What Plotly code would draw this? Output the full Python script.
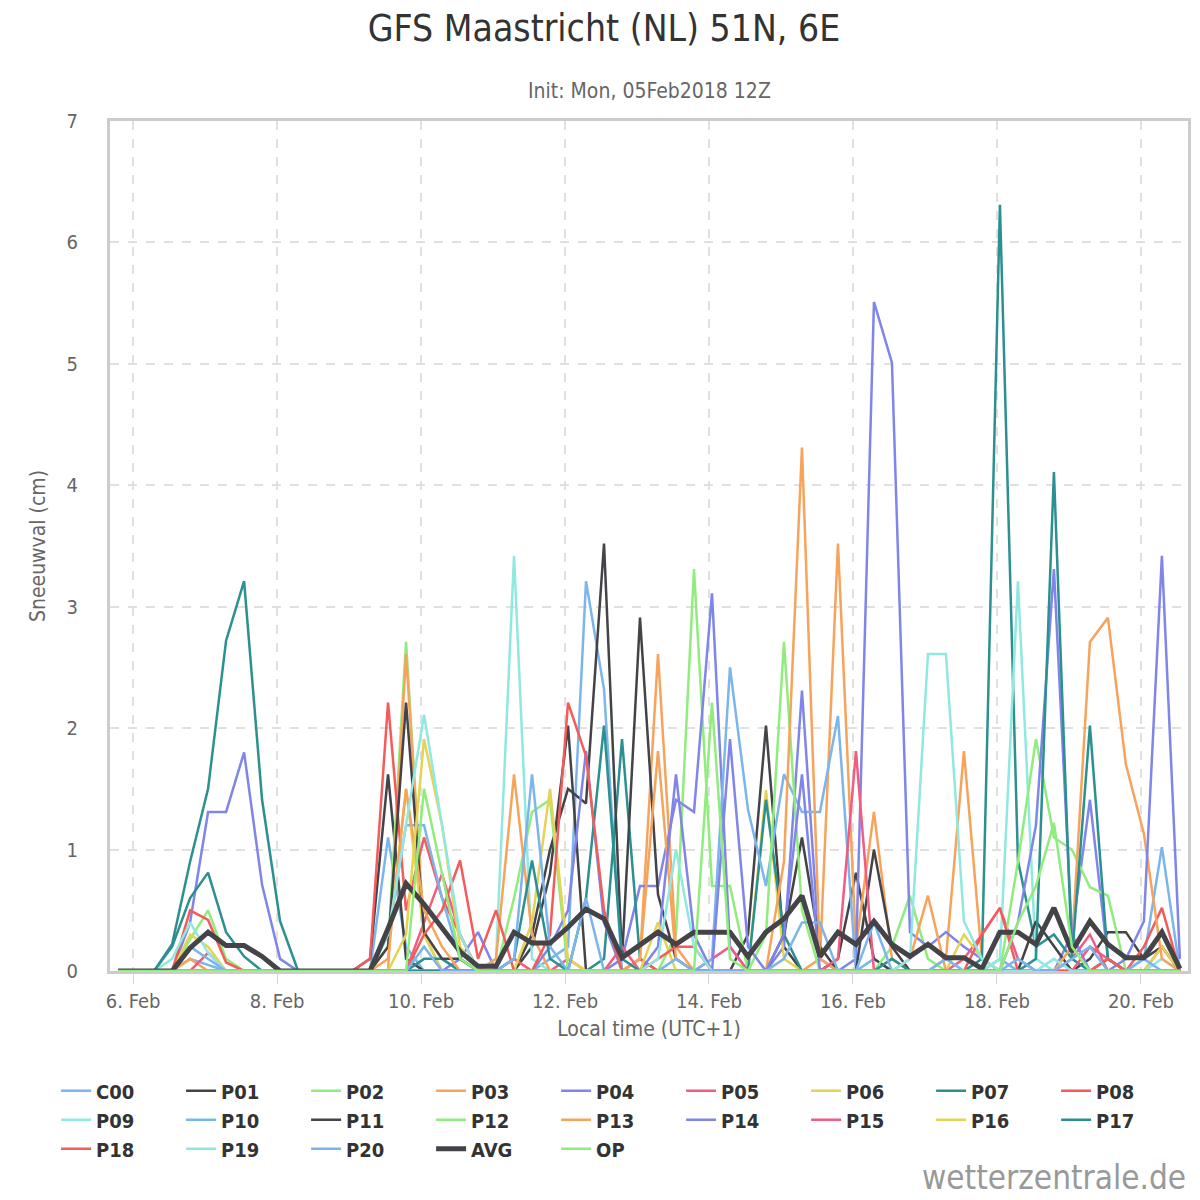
import pandas as pd
import plotly.graph_objects as go

FONT = "Liberation Sans Narrow, DejaVu Sans Condensed, Open Sans, sans-serif"

# 6-hourly steps, local time (UTC+1), first step = init + 6h
times = pd.date_range("2018-02-05 19:00", periods=60, freq="6h")

names = ["C00", "P01", "P02", "P03", "P04", "P05", "P06", "P07", "P08", "P09",
         "P10", "P11", "P12", "P13", "P14", "P15", "P16", "P17", "P18", "P19",
         "P20", "AVG", "OP"]

C00 = [0, 0, 0, 0, 0.1, 0.05, 0, 0, 0, 0,
       0, 0, 0, 0, 0, 1.1, 0.2, 0, 0, 0,
       0, 0, 0, 0, 0.1, 0.2, 3.21, 2.32, 0, 0,
       0, 0, 0, 0, 0, 0, 0, 0, 0, 0,
       0, 0, 0.1, 0, 0, 0, 0, 0, 0, 0.1,
       0, 0, 0, 0, 0, 0, 0, 0.1, 1.02, 0]
P01 = [0, 0, 0, 0, 0, 0, 0, 0, 0, 0,
       0, 0, 0, 0, 0.1, 1.62, 0.1, 0, 0, 0,
       0, 0, 0, 0.2, 0.8, 2.02, 0, 0, 0, 0,
       0, 0, 0, 0, 0, 0.3, 2.02, 0.2, 0, 0,
       0.1, 0.81, 0.1, 0, 0, 0, 0, 0, 0, 0,
       0, 0, 0, 0, 0.1, 0.32, 0.32, 0.1, 0.2, 0]
P02 = [0, 0, 0, 0, 0.26, 0.5, 0.1, 0, 0, 0,
       0, 0, 0, 0, 0, 0.2, 2.71, 0.3, 0, 0,
       0, 0, 0, 0, 0, 0, 0, 0, 0, 0,
       0, 0.3, 3.31, 0.7, 0.7, 0, 0, 0, 0, 0,
       0, 0, 0, 0.2, 0.62, 0.1, 0, 0, 0, 0,
       0, 0, 0, 0, 0, 0, 0, 0, 0, 0]
P03 = [0, 0, 0, 0, 0.1, 0, 0, 0, 0, 0,
       0, 0, 0, 0, 0, 0, 2.61, 0.3, 0.1, 0,
       0, 0, 0, 0, 0, 0, 0, 0, 0, 0.1,
       2.61, 0.2, 0, 0, 0, 0, 0, 0, 0, 0.1,
       3.52, 0.2, 1.31, 0.1, 0, 0, 0.1, 1.81, 0.1, 0,
       0, 0, 0, 0, 0, 0, 0, 0, 0, 0]
P04 = [0, 0, 0, 0, 0.4, 1.31, 1.31, 1.8, 0.71, 0.1,
       0, 0, 0, 0, 0, 0, 0, 0, 0, 0.1,
       0.32, 0, 0, 0, 0, 0, 0, 0, 0.1, 0.7,
       0.7, 1.41, 1.31, 3.11, 0.2, 0, 0, 0.2, 2.31, 0.1,
       0, 0.1, 5.51, 5.01, 0.32, 0.2, 0.32, 0.2, 0.1, 0,
       0, 0, 0, 0.3, 1.41, 0.1, 0, 0, 0, 0]
P05 = [0, 0, 0, 0, 0, 0.15, 0, 0, 0, 0,
       0, 0, 0, 0, 0, 0, 0, 0.4, 0.8, 0.3,
       0, 0, 0, 0, 0, 0.1, 0, 0, 0, 0,
       0, 0, 0, 0.1, 0.2, 0, 0, 0, 0, 0,
       0, 0, 0, 0, 0, 0, 0, 0.1, 0.3, 0.52,
       0.1, 0, 0, 0.1, 0.3, 0, 0, 0, 0.2, 0]
P06 = [0, 0, 0, 0, 0.3, 0.2, 0, 0, 0, 0,
       0, 0, 0, 0, 0, 0.2, 1.5, 0.3, 0, 0,
       0, 0, 0, 0, 0, 0, 0, 0, 0, 0,
       0, 0, 0, 0, 0, 0, 1.49, 0.1, 0, 0,
       0, 0, 0, 0, 0, 0, 0, 0.3, 0.1, 0,
       0, 0, 0, 0, 0, 0, 0, 0, 0.2, 0]
P07 = [0, 0, 0, 0.2, 0.6, 0.81, 0.32, 0.12, 0, 0,
       0, 0, 0, 0, 0, 0, 0, 0.1, 0.1, 0,
       0, 0, 0, 0, 0, 0, 0, 0.1, 1.91, 0.1,
       0, 0, 0, 0, 0, 0, 1.41, 0.3, 0, 0,
       0, 0, 0, 0, 0, 0, 0, 0, 0.1, 6.31,
       0.91, 0.2, 0.3, 0.1, 0, 0.1, 0, 0, 0, 0]
P08 = [0, 0, 0, 0, 0.5, 0.42, 0.07, 0, 0, 0,
       0, 0, 0, 0, 0.1, 2.21, 0.5, 1.1, 0.6, 0.3,
       0, 0, 0, 0, 0, 0, 0, 0, 0, 0.1,
       0, 0, 0, 0, 0, 0, 0, 0, 0, 0,
       0, 0, 0, 0, 0, 0, 0, 0, 0, 0,
       0, 0, 0, 0, 0, 0, 0, 0.2, 0.52, 0]
P09 = [0, 0, 0, 0.1, 0.4, 0.15, 0, 0, 0, 0,
       0, 0, 0, 0, 0, 0, 0, 0, 0, 0,
       0, 0.1, 3.42, 0.1, 0, 0, 0, 0, 0, 0,
       0, 0, 0, 0, 0, 0, 0, 0, 0, 0,
       0, 0, 0, 0, 0, 0, 0, 0, 0, 0.1,
       3.21, 0.1, 0, 0, 0, 0, 0, 0, 0.1, 0]
P10 = [0, 0, 0, 0, 0.2, 0.1, 0, 0, 0, 0,
       0, 0, 0, 0, 0, 0.3, 1.2, 1.2, 0.6, 0.1,
       0, 0, 0, 0, 0, 0, 0, 0, 0, 0,
       0, 0, 0, 0.1, 2.5, 1.33, 0.7, 1.62, 1.31, 1.31,
       2.1, 0, 0, 0, 0, 0, 0, 0, 0, 0,
       0, 0, 0, 0, 0, 0, 0, 0, 0, 0]
P11 = [0, 0, 0, 0, 0, 0, 0, 0, 0, 0,
       0, 0, 0, 0, 0, 0.2, 2.21, 0.32, 0.1, 0.1,
       0, 0, 0, 0.3, 1.0, 1.5, 1.38, 3.52, 0.1, 2.91,
       0.63, 0.1, 0, 0, 0, 0, 0, 0.3, 1.1, 0.2,
       0, 0, 1.0, 0.2, 0, 0, 0, 0, 0, 0,
       0, 0.41, 0.2, 0, 0, 0, 0, 0, 0, 0]
P12 = [0, 0, 0, 0, 0, 0, 0, 0, 0, 0,
       0, 0, 0, 0, 0, 0, 0, 0, 0, 0,
       0, 0, 0.6, 1.31, 1.41, 0, 0, 0, 0, 0,
       0, 0, 0, 0, 0, 0, 0.3, 2.71, 0.5, 0,
       0, 0, 0, 0, 0, 0, 0, 0, 0, 0,
       0.9, 1.91, 1.1, 1.0, 0.69, 0.62, 0, 0, 0, 0]
P13 = [0, 0, 0, 0, 0, 0, 0, 0, 0, 0,
       0, 0, 0, 0, 0, 0.1, 1.5, 0.5, 0.2, 0,
       0, 0.1, 1.62, 0.3, 0, 0, 0, 0, 0, 0.1,
       1.81, 0.1, 0, 0, 0, 0, 0, 0.9, 4.31, 0.1,
       0, 0, 0, 0, 0.1, 0.62, 0, 0, 0, 0,
       0, 0, 0, 0.2, 2.71, 2.91, 1.7, 1.13, 0.1, 0]
P14 = [0, 0, 0, 0, 0, 0, 0, 0, 0, 0,
       0, 0, 0, 0, 0, 0, 0, 0, 0, 0,
       0, 0, 0, 0, 0.2, 0.5, 1.81, 0.4, 0, 0,
       0.2, 1.62, 0.3, 0, 1.91, 0.2, 0, 0.3, 1.62, 0,
       0, 0, 0, 0, 0, 0, 0, 0, 0, 0,
       0.4, 1.2, 3.31, 0.3, 0, 0, 0.1, 0.41, 3.42, 0.1]
P15 = [0, 0, 0, 0, 0, 0, 0, 0, 0, 0,
       0, 0, 0, 0, 0, 0, 0, 0, 0, 0,
       0, 0, 0.1, 0, 0, 0, 0, 0, 0.2, 0,
       0, 0, 0, 0, 0, 0, 0, 0, 0, 0,
       0.1, 1.81, 0, 0, 0, 0, 0, 0, 0, 0,
       0, 0, 0, 0, 0.2, 0.1, 0, 0, 0, 0]
P16 = [0, 0, 0, 0, 0, 0, 0, 0, 0, 0,
       0, 0, 0, 0, 0, 0, 0.3, 1.91, 1.2, 0.2,
       0, 0, 0, 0.4, 1.5, 0.1, 0, 0, 0, 0,
       0.4, 0, 0, 0, 0, 0, 0, 0, 0, 0,
       0, 0, 0, 0, 0, 0, 0, 0, 0, 0,
       0, 0, 0, 0, 0, 0, 0, 0, 0, 0]
P17 = [0, 0, 0, 0.22, 0.9, 1.5, 2.72, 3.21, 1.41, 0.41,
       0, 0, 0, 0, 0, 0, 0, 0, 0, 0,
       0, 0, 0.1, 0.91, 0.1, 0, 0.6, 2.02, 0.1, 0,
       0, 0, 0, 0, 0, 0, 0, 0, 0, 0,
       0, 0, 0, 0.1, 0, 0, 0, 0, 0, 0,
       0, 0.1, 4.11, 0.1, 2.02, 0.1, 0, 0, 0, 0]
P18 = [0, 0, 0, 0, 0, 0, 0, 0, 0, 0,
       0, 0, 0, 0, 0, 0, 0, 0.3, 0.5, 0.91,
       0.1, 0.5, 0, 0, 0.3, 2.21, 1.77, 0.5, 0, 0,
       0.1, 0.2, 0.2, 0, 0, 0, 0, 0, 0, 0,
       0, 0, 0, 0, 0, 0, 0, 0, 0.3, 0.52,
       0, 0, 0, 0, 0, 0.1, 0, 0, 0, 0]
P19 = [0, 0, 0, 0, 0, 0, 0, 0, 0, 0,
       0, 0, 0, 0, 0, 0.3, 1.2, 2.11, 1.2, 0.3,
       0, 0, 0, 0, 0, 0, 0, 0, 0, 0,
       0.1, 1.0, 0.2, 0, 0, 0, 0, 0, 0, 0,
       0, 0, 0, 0, 0.1, 2.61, 2.61, 0.41, 0.1, 0,
       0, 0, 0.1, 0, 0, 0, 0, 0, 0, 0]
P20 = [0, 0, 0, 0, 0, 0, 0, 0, 0, 0,
       0, 0, 0, 0, 0, 0, 0, 0.2, 0, 0,
       0, 0, 0.1, 1.62, 0.2, 0, 0.6, 0, 0, 0,
       0, 0.1, 0, 0, 0, 0, 0, 0.1, 0.4, 0.4,
       0, 0, 0.4, 0, 0, 0, 0.1, 0, 0, 0,
       0.1, 0, 0, 0.1, 0.2, 0, 0, 0.1, 0, 0]
AVG = [0, 0, 0, 0, 0.19, 0.32, 0.21, 0.21, 0.12, 0,
       0, 0, 0, 0, 0, 0.35, 0.72, 0.55, 0.36, 0.16,
       0.04, 0.04, 0.32, 0.23, 0.23, 0.36, 0.51, 0.43, 0.11, 0.22,
       0.32, 0.22, 0.32, 0.32, 0.32, 0.12, 0.32, 0.43, 0.62, 0.12,
       0.32, 0.22, 0.41, 0.22, 0.12, 0.22, 0.11, 0.11, 0.02, 0.32,
       0.32, 0.22, 0.52, 0.16, 0.41, 0.22, 0.11, 0.11, 0.32, 0.02]
OP = [0, 0, 0, 0, 0, 0, 0, 0, 0, 0,
      0, 0, 0, 0, 0, 0, 0, 1.5, 0.8, 0.1,
      0, 0, 0, 0, 0, 0, 0, 0, 0, 0,
      0, 0, 0, 2.21, 0.1, 0, 0, 0, 0, 0,
      0, 0, 0, 0, 0, 0, 0, 0, 0, 0,
      0.4, 0.7, 1.22, 0.2, 0, 0, 0, 0, 0, 0]

series = [C00, P01, P02, P03, P04, P05, P06, P07, P08, P09,
          P10, P11, P12, P13, P14, P15, P16, P17, P18, P19,
          P20, AVG, OP]

palette = ["#7cb5ec", "#434348", "#90ed7d", "#f7a35c", "#8085e9",
           "#f15c80", "#e4d354", "#2b908f", "#f45b5b", "#91e8e1"]
colors = [palette[i % 10] for i in range(21)] + ["#434348", "#90ed7d"]

fig = go.Figure()
for name, vals, col in zip(names, series, colors):
    fig.add_trace(go.Scatter(
        x=times, y=vals, name=name, mode="lines",
        line=dict(color=col, width=5 if name == "AVG" else 2.5),
    ))

# page body adds an 8px offset, so the figure is 1192 square
pad = pd.Timedelta(hours=2.7)
fig.update_layout(
    width=1192, height=1192,
    margin=dict(l=102, r=12, t=113, b=229, autoexpand=False),
    paper_bgcolor="white", plot_bgcolor="white",
    font=dict(family=FONT, color="#666666", size=20),
    title=dict(text="GFS Maastricht (NL) 51N, 6E", x=0.5, xanchor="center",
               y=0.983, yanchor="middle",
               font=dict(size=37, color="#333333", family=FONT)),
    showlegend=True,
    legend=dict(orientation="h", x=-0.05, y=-0.118, xanchor="left", yanchor="top",
                entrywidth=80, entrywidthmode="pixels", itemwidth=30,
                font=dict(size=20, color="#333333", family=FONT, weight="bold"),
                traceorder="normal"),
    annotations=[
        dict(text="Init: Mon, 05Feb2018 12Z", xref="paper", yref="paper",
             x=0.5, y=1.035, xanchor="center", yanchor="middle", showarrow=False,
             font=dict(size=21, color="#666666", family=FONT)),
        dict(text="wetterzentrale.de", xref="paper", yref="paper",
             x=1.0, y=-0.243, xanchor="right", yanchor="middle", showarrow=False,
             font=dict(size=33, color="#999999", family=FONT)),
    ],
)
fig.update_xaxes(
    range=[times[0] - pad, times[-1] + pad],
    tick0="2018-02-06", dtick=2 * 86400000, tickformat="%-d. %b",
    showgrid=True, gridcolor="#e0e0e0", griddash="dash", gridwidth=1.5,
    ticks="outside", ticklen=10, tickcolor="#ccd6eb", tickwidth=1,
    showline=True, mirror=True, linecolor="#cccccc", linewidth=3,
    title=dict(text="Local time (UTC+1)", font=dict(size=21, color="#666666"), standoff=10),
    tickfont=dict(size=20, color="#666666"),
    zeroline=False, automargin=False,
)
fig.update_yaxes(
    range=[0, 7], dtick=1,
    showgrid=True, gridcolor="#e0e0e0", griddash="dash", gridwidth=1.5,
    showline=True, mirror=True, linecolor="#cccccc", linewidth=3,
    ticks="", ticklabelstandoff=25,
    title=dict(text="Sneeuwval (cm)", font=dict(size=21, color="#666666"), standoff=16),
    tickfont=dict(size=20, color="#666666"),
    zeroline=False, automargin=False,
)

fig.write_html("out.html")
